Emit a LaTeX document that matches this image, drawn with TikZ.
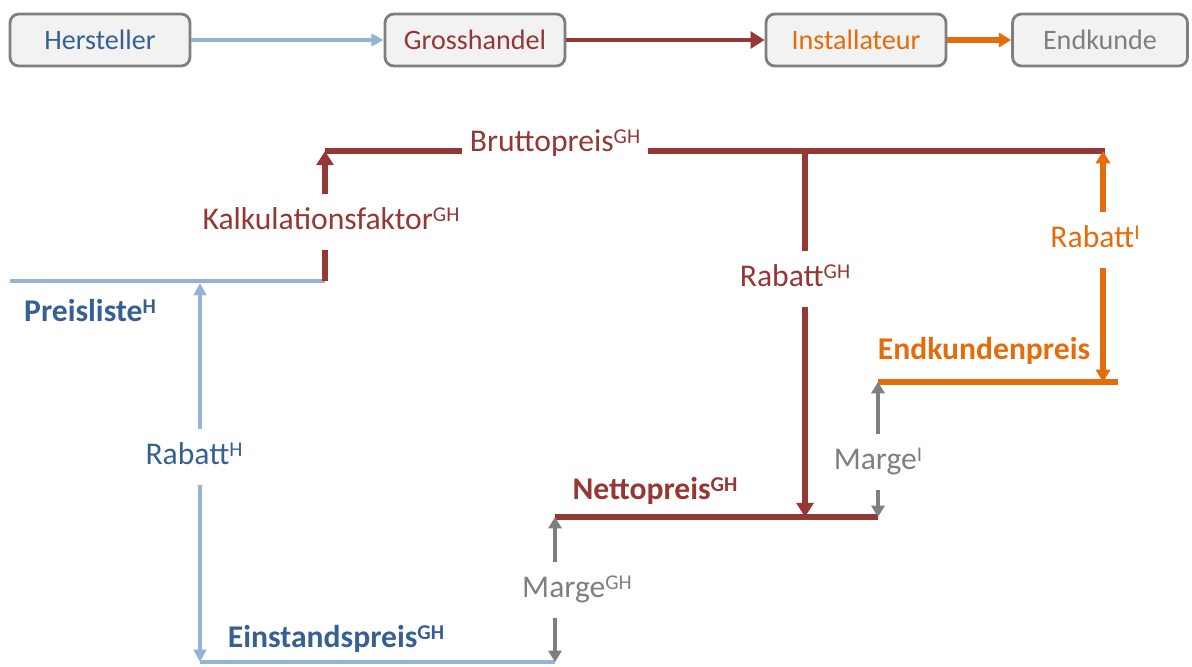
\documentclass[tikz,border=0pt]{standalone}
\usepackage{fontspec}
\setmainfont{Carlito}
\usetikzlibrary{arrows.meta}

\definecolor{hblue}{HTML}{95B3D7}
\definecolor{htext}{HTML}{376092}
\definecolor{ghred}{HTML}{953735}
\definecolor{iorange}{HTML}{E46C0A}
\definecolor{mgray}{HTML}{7F7F7F}
\definecolor{boxfill}{HTML}{F2F2F2}

\newcommand{\supx}[1]{\raisebox{5pt}{\fontsize{12}{14}\selectfont #1}}

\tikzset{
	stage/.style={draw=mgray, line width=1.6pt, fill=boxfill, rounded corners=5pt, minimum width=3.6cm, minimum height=1.04cm, font=\fontsize{16}{19}\selectfont},
	lbl/.style={font=\fontsize{18}{22}\selectfont, text height=13.5pt, text depth=4.5pt, inner xsep=4pt, inner ysep=6.5pt},
	price/.style={lbl, font=\fontsize{18}{22}\selectfont\bfseries},
	hline/.style={draw=hblue, line width=2.3pt},
	ghline/.style={draw=ghred, line width=3pt},
	iline/.style={draw=iorange, line width=3pt},
	mline/.style={draw=mgray, line width=2.2pt},
	htip/.style={-{Triangle[length=7pt,width=7pt]}},
	ghtip/.style={-{Triangle[length=8pt,width=9.5pt]}},
	itip/.style={-{Triangle[length=7pt,width=8pt]}},
	mtip/.style={-{Triangle[length=6.5pt,width=7.5pt]}}
}

\begin{document}
\begin{tikzpicture}[x=0.02cm, y=-0.02cm]
	\useasboundingbox (0,0) rectangle (1192,666);

	\node (herst) [stage, text=htext] at (100,40) {Hersteller};
	\node (gross) [stage, text=ghred] at (475,40) {Grosshandel};
	\node (inst) [stage, text=iorange] at (856,40) {Installateur};
	\node (endk) [stage, text=mgray, minimum width=3.5cm] at (1100,40) {Endkunde};

	\path (herst) edge[hline, htip] (gross);
	\path (gross) edge[ghline, line width=2.3pt, ghtip] (inst);
	\path (inst) edge[iline, line width=3.4pt, itip] (endk);

	\coordinate (plstart) at (10,281);
	\coordinate (plend) at (325,281);
	\coordinate (btop) at (325,151);
	\coordinate (rghtop) at (805,151);
	\coordinate (ritop) at (1103,151);
	\coordinate (bend) at (1105,151);
	\coordinate (ekstart) at (878,382);
	\coordinate (ribot) at (1103,382);
	\coordinate (ekend) at (1118,382);
	\coordinate (nlstart) at (555,517);
	\coordinate (rghbot) at (805,517);
	\coordinate (nlend) at (878,517);
	\coordinate (rhtop) at (200,283);
	\coordinate (eslstart) at (200,662);
	\coordinate (eslend) at (555,662);

	\node (pl) [price, text=htext] at (90,314) {Preisliste\supx{H}};
	\node (esp) [price, text=htext] at (336,640) {Einstandspreis\supx{GH}};
	\node (np) [price, text=ghred] at (655,492) {Nettopreis\supx{GH}};
	\node (ekp) [price, text=iorange] at (984,352) {Endkundenpreis};

	\node (kalk) [lbl, text=ghred] at (331,222) {Kalkulationsfaktor\supx{GH}};
	\node (brutto) [lbl, text=ghred] at (555,144) {Bruttopreis\supx{GH}};
	\node (rgh) [lbl, text=ghred] at (795,279) {Rabatt\supx{GH}};
	\node (ri) [lbl, text=iorange] at (1095,240) {Rabatt\supx{I}};
	\node (rh) [lbl, text=htext] at (194,457) {Rabatt\supx{H}};
	\node (mgh) [lbl, text=mgray] at (577,590) {Marge\supx{GH}};
	\node (mi) [lbl, text=mgray] at (878,462) {Marge\supx{I}};

	\path (plstart) edge[hline] (plend);
	\path (eslstart) edge[hline] (eslend);
	\path (rh.north -| rhtop) edge[hline, htip] (rhtop);
	\path (rh.south -| rhtop) edge[hline, htip] (eslstart);

	\path (plend) edge[ghline] (kalk.south -| plend);
	\path (kalk.north -| plend) edge[ghline, ghtip] (btop);
	\path (btop) edge[ghline] (brutto.west |- btop);
	\path (brutto.east |- btop) edge[ghline] (bend);
	\path (rghtop) edge[ghline] (rgh.north -| rghtop);
	\path (rgh.south -| rghtop) edge[ghline, ghtip] (rghbot);
	\path (nlstart) edge[ghline] (nlend);

	\path (ekstart) edge[iline] (ekend);
	\path (ri.north -| ritop) edge[iline, itip] (ritop);
	\path (ri.south -| ritop) edge[iline, itip] (ribot);

	\path (mgh.north -| nlstart) edge[mline, mtip] (nlstart);
	\path (mgh.south -| nlstart) edge[mline, mtip] (eslend);
	\path (mi.north -| ekstart) edge[mline, mtip] (ekstart);
	\path (mi.south -| ekstart) edge[mline, mtip] (nlend);
\end{tikzpicture}
\end{document}
